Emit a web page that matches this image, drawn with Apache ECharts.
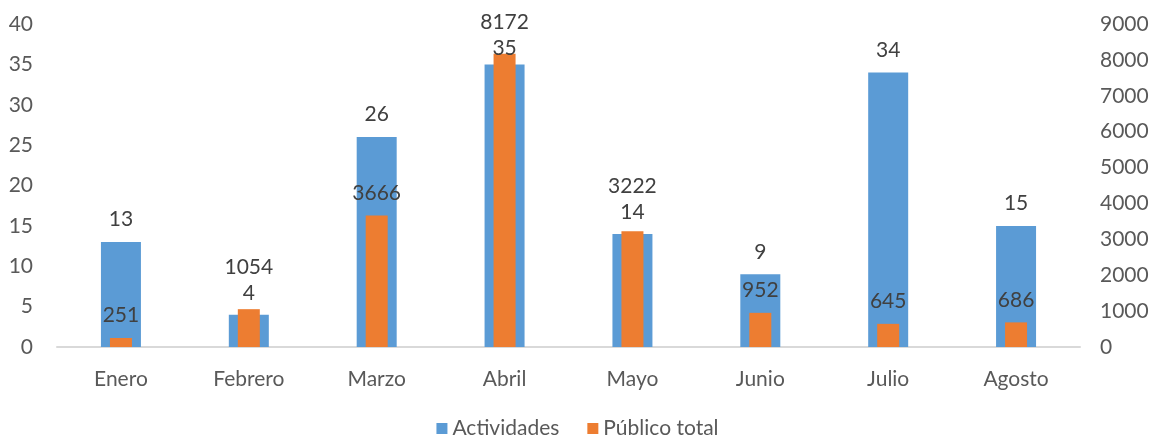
<!DOCTYPE html>
<html>
<head>
<meta charset="utf-8">
<script src="https://cdn.jsdelivr.net/npm/echarts@6/dist/echarts.min.js"></script>
<style>
  html, body { margin: 0; padding: 0; background: #fff; }
  #container { width: 1155px; height: 438px; }
</style>
</head>
<body>
<div id="container"></div>
<script>
var meses = ['Enero', 'Febrero', 'Marzo', 'Abril', 'Mayo', 'Junio', 'Julio', 'Agosto'];
var actividades = [13, 4, 26, 35, 14, 9, 34, 15];
var publico = [251, 1054, 3666, 8172, 3222, 952, 645, 686];

var fuente = 'Lato';
var tam = 21;

let option = {
  animation: false,
  textStyle: { fontFamily: fuente },
  grid: { left: 57, right: 75, top: 24, bottom: 91 },
  legend: {
    top: 413,
    left: 'center',
    itemWidth: 11,
    itemHeight: 11,
    itemGap: 28,
    icon: 'rect',
    textStyle: { color: '#595959', fontSize: tam, fontFamily: fuente },
    data: ['Actividades', 'Público total']
  },
  xAxis: [{
    type: 'category',
    data: meses,
    axisLine: { lineStyle: { color: '#D9D9D9', width: 2 } },
    axisTick: { show: false },
    axisLabel: { color: '#595959', fontSize: tam, margin: 22 }
  }, {
    type: 'category',
    data: meses,
    show: false
  }],
  yAxis: [{
    type: 'value',
    min: 0, max: 40, interval: 5,
    splitLine: { show: false },
    axisLine: { show: false },
    axisTick: { show: false },
    axisLabel: { color: '#595959', fontSize: tam, margin: 24 }
  }, {
    type: 'value',
    min: 0, max: 9000, interval: 1000,
    splitLine: { show: false },
    axisLine: { show: false },
    axisTick: { show: false },
    axisLabel: { color: '#595959', fontSize: tam, margin: 20, formatter: function (v) { return String(v); } }
  }],
  series: [{
    name: 'Actividades',
    type: 'bar',
    xAxisIndex: 0,
    yAxisIndex: 0,
    barWidth: 40,
    itemStyle: { color: '#5B9BD5' },
    label: { show: true, position: 'top', distance: 12, color: '#404040', fontSize: tam },
    data: actividades
  }, {
    name: 'Público total',
    type: 'bar',
    xAxisIndex: 1,
    yAxisIndex: 1,
    barWidth: 22,
    itemStyle: { color: '#ED7D31' },
    label: { show: true, position: 'top', distance: 12, color: '#404040', fontSize: tam },
    data: publico
  }]
};
var myChart = window.echarts.init(document.getElementById('container'), null, { renderer: 'canvas' });
myChart.setOption(option);

// separar etiquetas que se pisan (como hace Excel)
var datosA = [], datosP = [];
for (var i = 0; i < meses.length; i++) {
  var yA = myChart.convertToPixel({ xAxisIndex: 0, yAxisIndex: 0 }, [i, actividades[i]])[1] - 25;
  var yP = myChart.convertToPixel({ xAxisIndex: 1, yAxisIndex: 1 }, [i, publico[i]])[1] - 25;
  var offA = 0, offP = 0;
  if (Math.abs(yA - yP) < 24) {
    var nA = Math.max(yA, yP) + 1;
    var nP = nA - 26;
    if (nP < 20) { nA += 20 - nP; nP = 20; }
    offA = nA - yA;
    offP = nP - yP;
  }
  datosA.push({ value: actividades[i], label: { offset: [0, offA] } });
  datosP.push({ value: publico[i], label: { offset: [0, offP] } });
}
myChart.setOption({ series: [{ data: datosA }, { data: datosP }] });
</script>
</body>
</html>
